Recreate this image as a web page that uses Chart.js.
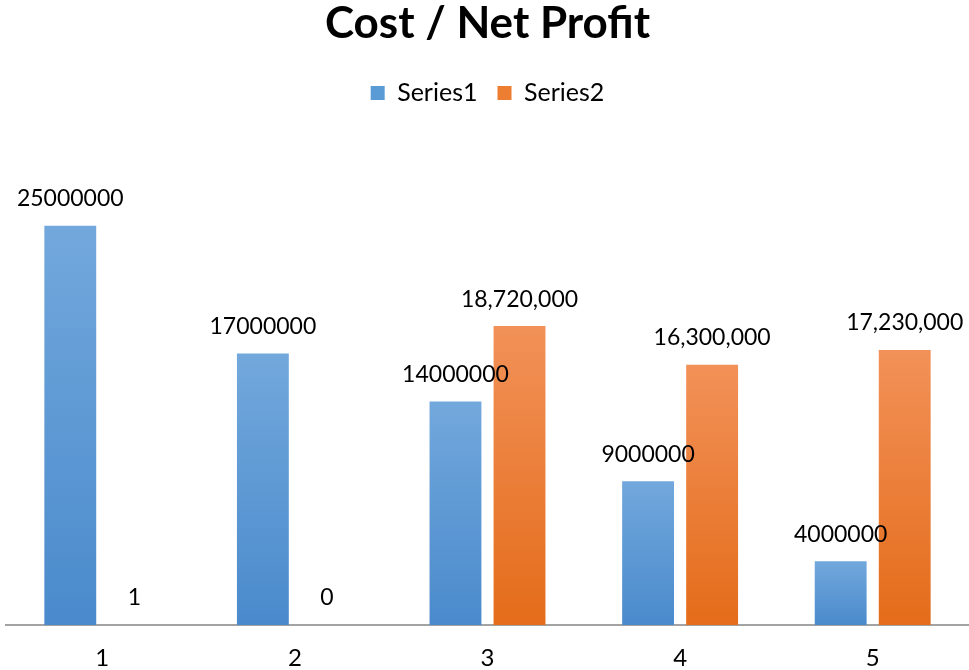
<!DOCTYPE html>
<html>
<head>
<meta charset="utf-8">
<script src="https://cdn.jsdelivr.net/npm/chart.js@4"></script>
<style>
  html, body { margin: 0; padding: 0; background: #fff; }
  canvas { display: block; }
</style>
</head>
<body>
<canvas id="c" width="969" height="670"></canvas>
<script>
const categories = ['1', '2', '3', '4', '5'];
const series1 = [25000000, 17000000, 14000000, 9000000, 4000000];
const series2 = [1, 0, 18720000, 16300000, 17230000];
const seriesNames = ['Series1', 'Series2'];

const FONT = 'Lato, "Open Sans", sans-serif';

function gradientFill(top, bottom, flat) {
  return function (ctx) {
    const chart = ctx.chart;
    const y = chart.scales && chart.scales.y;
    if (ctx.type !== 'data' || !y || ctx.raw == null) return flat;
    const y0 = y.getPixelForValue(0);
    const y1 = y.getPixelForValue(ctx.raw);
    if (!isFinite(y0) || !isFinite(y1) || Math.abs(y0 - y1) < 1) return flat;
    const g = chart.ctx.createLinearGradient(0, y1, 0, y0);
    g.addColorStop(0, top);
    g.addColorStop(1, bottom);
    return g;
  };
}

const labelPlugin = {
  id: 'barLabels',
  afterDatasetsDraw(chart) {
    const ctx = chart.ctx;
    ctx.save();
    ctx.font = '23px ' + FONT;
    ctx.fillStyle = '#000';
    ctx.textAlign = 'center';
    ctx.textBaseline = 'middle';
    chart.data.datasets.forEach((ds, di) => {
      const meta = chart.getDatasetMeta(di);
      meta.data.forEach((bar, i) => {
        const v = ds.data[i];
        const txt = di === 0 ? String(v) : v.toLocaleString('en-US');
        ctx.fillText(txt, bar.x, bar.y - 27);
      });
    });
    ctx.restore();
  }
};

// give the legend box a fixed height so the plot area starts where the reference's does
const legendSpace = {
  id: 'legendSpace',
  beforeInit(chart) {
    const lg = chart.legend;
    if (!lg) return;
    const orig = lg.fit;
    lg.fit = function () {
      orig.call(this);
      this.height = 85.6;
    };
  }
};

new Chart(document.getElementById('c'), {
  type: 'bar',
  data: {
    labels: categories,
    datasets: [
      {
        label: seriesNames[0],
        data: series1,
        backgroundColor: gradientFill('#72a8dc', '#4a8acc', '#5b9bd5'),
        categoryPercentage: 0.665,
        barPercentage: 0.81
      },
      {
        label: seriesNames[1],
        data: series2,
        backgroundColor: gradientFill('#f29158', '#e46c1a', '#ed7d31'),
        categoryPercentage: 0.665,
        barPercentage: 0.81
      }
    ]
  },
  options: {
    responsive: false,
    animation: false,
    layout: { padding: { left: 6, right: 0, top: 0, bottom: 0 } },
    plugins: {
      title: {
        display: true,
        text: 'Cost / Net Profit',
        color: '#000',
        font: { family: FONT, size: 44, weight: 'bold', lineHeight: 1.1 },
        padding: { top: 0, bottom: 12 }
      },
      legend: {
        display: true,
        position: 'top',
        labels: {
          color: '#000',
          font: { family: FONT, size: 25 },
          boxWidth: 14,
          boxHeight: 14,
          padding: 20,
          generateLabels(chart) {
            const flat = ['#5b9bd5', '#ed7d31'];
            return chart.data.datasets.map((ds, i) => ({
              text: ds.label,
              fillStyle: flat[i],
              strokeStyle: flat[i],
              lineWidth: 0,
              hidden: false,
              datasetIndex: i,
              fontColor: '#000'
            }));
          }
        }
      },
      tooltip: { enabled: false }
    },
    scales: {
      x: {
        grid: { display: false, drawTicks: false },
        border: { display: true, color: '#a3a3a3', width: 2 },
        ticks: { color: '#000', font: { family: FONT, size: 24 }, padding: 19 },
        afterFit(scale) { scale.height = 45; }
      },
      y: {
        display: false,
        min: 0,
        max: 30000000
      }
    }
  },
  plugins: [labelPlugin, legendSpace]
});
</script>
</body>
</html>
